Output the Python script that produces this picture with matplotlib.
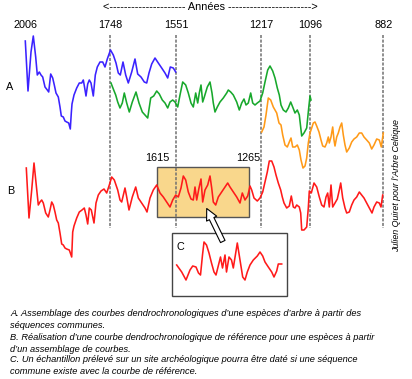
import matplotlib
matplotlib.use("Agg")
import matplotlib.pyplot as plt
from matplotlib.patches import Rectangle, FancyArrowPatch

# ---------------- data ----------------
year_labels = ["2006", "1748", "1551", "1217", "1096", "882"]
year_pos = [26, 110.5, 176.5, 261, 310.5, 383.5]

blue_x = [25.3, 28, 31, 33.3, 35.7, 37.3, 39.3, 41, 42.7, 45, 47.3, 48.7, 50.7, 52.7, 54.3, 56, 58.3, 60,
          61.3, 63.3, 65, 66.7, 68.7, 70.3, 71.3, 72, 74, 76.7, 79.3, 81.7, 83.3, 84.7, 86, 87.7, 89.3,
          91, 93.3, 95.3, 97.3, 100, 102.7, 105, 107.3, 110.5, 113.3, 116, 118.3, 120.3, 123, 125.7,
          128.3, 131.7, 135, 137.7, 141, 144.3, 146.7, 149, 151.7, 155, 158.3, 161.7, 165, 167.7, 170.3,
          173.3, 175.7]
blue_y = [41, 91, 52, 36, 57, 75, 72, 75, 77, 87, 90, 92, 74, 78, 85, 93, 97, 107,
          116, 117, 121, 122, 123, 129, 113, 104, 95, 88, 83, 83, 80, 88, 96, 84, 80,
          83, 96, 75, 67, 62, 62, 67, 59, 50, 55, 63, 73, 75, 62, 75,
          83, 72, 59, 74, 77, 82, 83, 73, 64, 58, 63, 68, 73, 78, 67,
          68, 72]

green_x = [111, 113.3, 115.7, 117.7, 120, 122.3, 124.3, 126.7, 129.3, 132.3, 136, 139, 142.3, 145, 147.7,
           150.7, 153.7, 156.7, 159.3, 162.3, 165, 167.7, 170, 172.7, 175, 177.7, 180, 182.7, 185.7,
           188.3, 191, 193.3, 195.7, 197.7, 199.3, 201, 202.7, 204.3, 207.3, 210, 212, 213.3, 215,
           217.3, 220, 223.3, 226.7, 228.3, 230.7, 233.3, 236.7, 239.3, 241.7, 244, 246, 248.3, 250.7,
           252.7, 255, 257.3, 260, 262.7, 265, 267.7, 270, 272.7, 275, 277.3, 279.3, 281, 283.3, 286,
           288.3, 290.7, 292.7, 295, 297.3, 299.3, 301.7, 304, 306.7, 308.7, 310, 311]
green_y = [83, 89, 95, 102, 108, 103, 93, 103, 112, 102, 92, 103, 112, 115, 118,
           98, 96, 91, 94, 100, 103, 108, 102, 100, 102, 107, 95, 82, 85,
           93, 103, 107, 93, 103, 93, 85, 102, 97, 87, 82, 93, 103, 112,
           107, 102, 98, 93, 90, 92, 95, 102, 110, 103, 99, 105, 103, 93,
           103, 105, 103, 101, 93, 82, 70, 66, 71, 78, 88, 95, 105, 110, 112,
           108, 102, 107, 113, 110, 115, 136, 133, 128, 108, 96, 100]

orange_x = [261.7, 264, 266, 268.3, 270.7, 273.3, 276.7, 279, 281, 282.7, 285, 287.3, 289.3, 291, 292.7,
            295, 297.3, 299.3, 301, 303, 305, 306.7, 308.3, 310, 311.7, 313.3, 315, 316.7, 319, 321,
            322.7, 325, 326.7, 328.3, 329.3, 331, 332.7, 334, 335, 336.7, 338.3, 340, 341.7, 343.3, 345,
            346.7, 349.3, 351.7, 354, 356.7, 359.3, 361.7, 364, 366.7, 369.3, 371.7, 374, 376.7, 379.3,
            381.3, 383.3]
orange_y = [132, 127, 115, 98, 100, 107, 113, 123, 125, 135, 145, 147, 142, 138, 147,
            147, 145, 150, 160, 168, 166, 158, 143, 133, 128, 123, 122, 126, 132, 140,
            146, 147, 143, 137, 143, 137, 127, 140, 146, 137, 133, 127, 123, 135, 145,
            152, 148, 142, 139, 137, 133, 133, 137, 140, 143, 149, 145, 139, 140,
            147, 133]

red_x = [26.3, 29, 31.7, 34, 36, 38.3, 40, 41.7, 43.3, 45.7, 48.3, 50, 51.7, 53.3, 55, 56.7, 58.3, 60,
         61.7, 63.3, 65, 66.7, 69.3, 71.7, 72.7, 74, 76.7, 79.3, 82, 84.3, 86, 87.7, 89.3, 91.3, 94,
         96, 98.3, 101, 104, 106.7, 109.3, 111.7, 114.3, 117.7, 120, 121.7, 125, 126.7, 129, 132.3,
         135.7, 138.3, 141.7, 145, 147, 150, 153.3, 156.7, 160, 163.3, 166.7, 170, 172.7, 175.7,
         178.3, 181, 183.3, 185.7, 188.3, 191, 193.3, 195, 196.7, 199, 201, 202.7, 205, 207.7, 210,
         211.7, 213.3, 215.7, 218.3, 221.7, 225, 227.7, 230, 233.3, 236.7, 240, 242.3, 245, 247.7,
         250, 251.7, 254, 257.3, 260, 262.7, 265, 267.3, 269.3, 271.7, 274, 276, 278.3, 280.7, 282.3,
         284, 286.7, 289.3, 291.3, 293.3, 295, 296.7, 299.3, 300.7, 301.7, 304, 306.7, 308.3, 309.3,
         311.3, 314, 316.7, 319.3, 321.7, 324, 326, 327.7, 329.3, 331, 332.7, 335, 337.3, 339.3, 340.7,
         342.7, 345, 346.7, 349.3, 351.7, 354, 356.7, 359.3, 361.7, 364, 366.7, 369.3, 372, 374,
         376.7, 379.3, 381, 382.7]
red_y = [168, 218, 190, 163, 183, 205, 202, 200, 203, 213, 217, 210, 202, 205, 212, 220, 223, 233,
         244, 245, 248, 249, 250, 257, 232, 226, 218, 212, 210, 208, 215, 224, 208, 210, 223,
         203, 195, 191, 189, 193, 185, 177, 180, 190, 200, 202, 188, 197, 210, 197,
         187, 198, 203, 208, 212, 198, 190, 185, 193, 197, 202, 207, 200, 195,
         197, 188, 176, 180, 192, 199, 200, 187, 200, 188, 179, 202, 190, 185, 176,
         188, 202, 205, 197, 192, 187, 183, 187, 192, 197, 203, 193, 200, 196,
         186, 190, 198, 201, 198, 192, 182, 172, 161, 161, 167, 175, 183, 190, 197,
         203, 208, 206, 196, 207, 208, 205, 207, 213, 230, 230, 227, 208, 191,
         193, 183, 187, 197, 205, 207, 197, 193, 207, 185, 207, 203, 199, 190, 183,
         198, 208, 213, 212, 205, 200, 197, 192, 195, 198, 203, 208, 213, 207,
         202, 203, 207, 195]

c_x = [176.7, 181.7, 186, 190, 192.7, 196, 198.5, 200.5, 202.5, 204, 206.5, 209, 211.5, 214, 216, 218.5,
       220.5, 222.5, 225, 226.5, 229, 231.5, 233.3, 237.3, 240, 242.7, 245, 247.3, 250, 253.3, 257.3,
       260, 262.7, 265, 268.3, 271.7, 274, 276.7, 278.3, 281.7]
c_y = [265, 272, 280, 270, 266, 267, 273, 275, 255, 242, 245, 253, 263, 272, 275, 265,
       257, 268, 255, 272, 257, 260, 268, 243, 260, 277, 280, 272, 265, 260, 256,
       252, 256, 262, 267, 272, 277, 271, 264, 264]

caption = [
    "A. Assemblage des courbes dendrochronologiques d\u2019une espèces d\u2019arbre à partir des",
    "séquences communes.",
    "B. Réalisation d\u2019une courbe dendrochronologique de référence pour une espèces à partir",
    "d\u2019un assemblage de courbes.",
    "C. Un échantillon prélevé sur un site archéologique pourra être daté si une séquence",
    "commune existe avec la courbe de référence.",
]

# ---------------- figure ----------------
fig = plt.figure(figsize=(4.12, 3.79), dpi=100)
ax = fig.add_axes([0, 0, 1, 1])
ax.set_xlim(0, 412)
ax.set_ylim(379, 0)
ax.axis("off")

FONT = "Liberation Sans"

# orange reference window
ax.add_patch(Rectangle((156.7, 166.7), 92.6, 50, facecolor="#f9d78c", edgecolor="#555555",
                       lw=1.0, zorder=1))

# vertical year lines
ax.vlines(year_pos[1:], 35, 228, colors="#707070", linestyles=(0, (2, 1)), lw=1.1, zorder=2)

lw = 1.15
ax.plot(blue_x, blue_y, color="#3b22ff", lw=lw, zorder=3)
ax.plot(green_x, green_y, color="#18a82c", lw=lw, zorder=3)
ax.plot(orange_x, orange_y, color="#ff9a18", lw=lw, zorder=3)
ax.plot(red_x, red_y, color="#ff1a1a", lw=lw, zorder=4)

# box C
ax.add_patch(Rectangle((172.3, 233.3), 115, 62.4, facecolor="white", edgecolor="#444444",
                       lw=1.0, zorder=5))
ax.plot(c_x, c_y, color="#ff1a1a", lw=lw, zorder=6)
ax.text(180, 247, "C", fontsize=7.8, family=FONT, ha="center", va="center", zorder=6)

# hollow arrow
arr = FancyArrowPatch((224, 244), (205.5, 206),
                      arrowstyle="simple,head_length=0.9,head_width=0.9,tail_width=0.4",
                      mutation_scale=9, fc="white", ec="black", lw=0.8, zorder=7)
ax.add_patch(arr)

# header and years
ax.text(210.5, 7, "<" + "-" * 21 + " Années " + "-" * 23 + ">", fontsize=7.8, family=FONT,
        ha="center", va="center")
for lab, xp in zip(year_labels, year_pos):
    ax.text(xp, 24.5, lab, fontsize=7.8, family=FONT, ha="center", va="center")

ax.text(157.5, 158, "1615", fontsize=7.8, family=FONT, ha="center", va="center")
ax.text(248, 158, "1265", fontsize=7.8, family=FONT, ha="center", va="center")

ax.text(9.5, 87, "A", fontsize=7.8, family=FONT, ha="center", va="center")
ax.text(10.5, 190.5, "B", fontsize=7.8, family=FONT, ha="center", va="center")

ax.text(397, 186, "Julien Quiret pour l\u2019Arbre Celtique", fontsize=6.4, family=FONT,
        style="italic", rotation=90, ha="center", va="center")

cap_y = [313, 325, 337, 349, 360, 371]
for line, yy in zip(caption, cap_y):
    ax.text(10, yy, line, fontsize=6.7, family=FONT, style="italic", ha="left", va="center")

fig.savefig("out.png", dpi=100)
